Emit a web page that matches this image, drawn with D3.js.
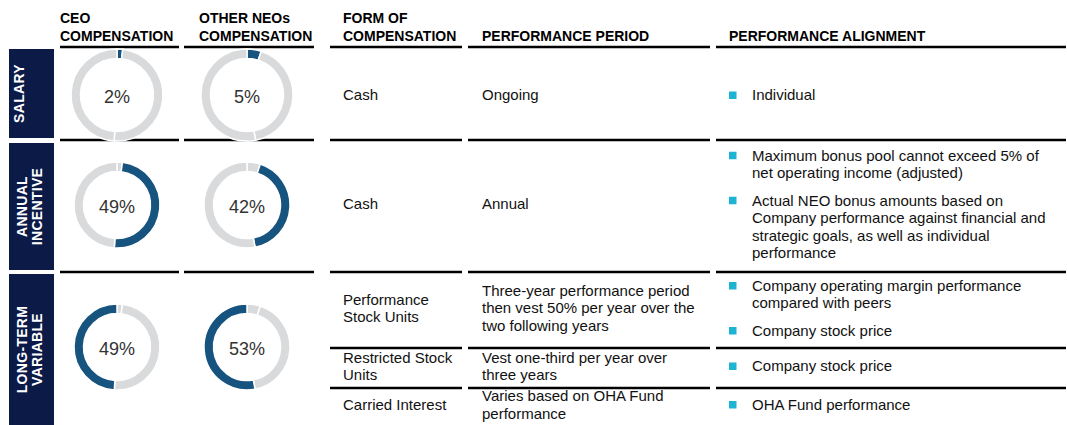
<!DOCTYPE html>
<html>
<head>
<meta charset="utf-8">
<script src="https://cdn.jsdelivr.net/npm/d3@7"></script>
<style>
  body { margin: 0; background: #fff; }
  text { font-family: "Liberation Sans", Arial, sans-serif; }
</style>
</head>
<body>
<div class="chart"></div>
<script>
// ---- data ----
const groups = ["SALARY", "ANNUAL INCENTIVE", "LONG-TERM VARIABLE"];
const groupLines = [["SALARY", ""], ["ANNUAL", "INCENTIVE"], ["LONG-TERM", "VARIABLE"]];
const ceoShare = [2, 49, 49];
const neoShare = [5, 42, 53];

const headers = [
    ["CEO", "COMPENSATION"],
    ["OTHER NEOs", "COMPENSATION"],
    ["FORM OF", "COMPENSATION"],
    ["", "PERFORMANCE PERIOD"],
    ["", "PERFORMANCE ALIGNMENT"]
];

// one entry per table sub-row
const forms = [["Cash"], ["Cash"], ["Performance", "Stock Units"], ["Restricted Stock", "Units"], ["Carried Interest"]];
const periods = [
    ["Ongoing"],
    ["Annual"],
    ["Three-year performance period", "then vest 50% per year over the", "two following years"],
    ["Vest one-third per year over", "three years"],
    ["Varies based on OHA Fund", "performance"]
];
const alignments = [
    [["Individual"]],
    [["Maximum bonus pool cannot exceed 5% of", "net operating income (adjusted)"],
     ["Actual NEO bonus amounts based on", "Company performance against financial and", "strategic goals, as well as individual", "performance"]],
    [["Company operating margin performance", "compared with peers"], ["Company stock price"]],
    [["Company stock price"]],
    [["OHA Fund performance"]]
];

// ---- layout ----
const width = 1067, height = 425;
const navy = "#0c1a48", blue = "#17537f", grey = "#d9dadc", cyan = "#1db4d4";
const lineH = 17.5, bulletGap = 10;

const cols = [[60, 179], [184, 314], [330, 462], [468, 710], [716, 1066]];
const headerX = [60, 199, 343, 482, 729];
const groupBounds = [47, 140, 272, 425];
const subBounds = [47, 140, 272, 348, 388, 425];
const barSpans = [[49, 138], [143, 270], [274, 425]];

const svg = d3.select(".chart").append("svg")
    .attr("width", width)
    .attr("height", height);

// headers
headers.forEach((h, i) => {
    h.forEach((t, j) => {
        if (!t) return;
        svg.append("text")
            .attr("x", headerX[i])
            .attr("y", 23 + j * 17.5)
            .attr("font-size", 14)
            .attr("font-weight", "bold")
            .attr("fill", "#000")
            .text(t);
    });
});

// left group bars
groups.forEach((g, i) => {
    const [y0, y1] = barSpans[i];
    svg.append("rect")
        .attr("x", 9).attr("y", y0)
        .attr("width", 45).attr("height", y1 - y0)
        .attr("fill", navy);
    const cy = (y0 + y1) / 2;
    groupLines[i].forEach((t, j) => {
        if (!t) return;
        const cx = (i === 0 ? 19 : 22) + j * 15;
        svg.append("text")
            .attr("transform", `translate(${cx},${cy}) rotate(-90)`)
            .attr("text-anchor", "middle")
            .attr("dy", "0.36em")
            .attr("font-size", 14)
            .attr("font-weight", "bold")
            .attr("letter-spacing", 0.3)
            .attr("fill", "#fff")
            .text(t);
    });
});

// rule lines
const rules = [];
groupBounds.slice(0, 3).forEach(y => cols.forEach(c => rules.push({ y, x0: c[0], x1: c[1] })));
[348, 388].forEach(y => cols.slice(2).forEach(c => rules.push({ y, x0: c[0], x1: c[1] })));

svg.selectAll("line.rule")
    .data(rules)
    .join("line")
    .attr("class", "rule")
    .attr("x1", d => d.x0).attr("x2", d => d.x1)
    .attr("y1", d => d.y).attr("y2", d => d.y)
    .attr("stroke", "#000")
    .attr("stroke-width", 2.6);

// donuts
const pie = d3.pie().sort(null).value(d => d);
const donutCx = [117, 247];
const donutCy = [95, 205, 347];
const radius = [46, 43, 43];

[ceoShare, neoShare].forEach((shares, c) => {
    const arcs = pie(shares);
    arcs.forEach((a, i) => {
        const arc = d3.arc().innerRadius(radius[i] - 9.5).outerRadius(radius[i]);
        const g = svg.append("g")
            .attr("transform", `translate(${donutCx[c]},${donutCy[i]})`);
        g.selectAll("path")
            .data(arcs)
            .join("path")
            .attr("d", arc)
            .attr("fill", (d, k) => k === i ? blue : grey)
            .attr("stroke", "#fff")
            .attr("stroke-width", 1.5);
        g.append("text")
            .attr("text-anchor", "middle")
            .attr("dy", "0.36em")
            .attr("y", 2)
            .attr("font-family", "Roboto, Arial, sans-serif")
            .attr("font-size", 18)
            .attr("fill", "#333")
            .text(shares[i] + "%");
    });
});

// table body text
function textBlock(x, cy, lines) {
    const top = cy - (lines.length - 1) * lineH / 2;
    lines.forEach((t, j) => {
        svg.append("text")
            .attr("x", x)
            .attr("y", top + j * lineH)
            .attr("dy", "0.35em")
            .attr("font-size", 15)
            .attr("fill", "#111")
            .text(t);
    });
}

forms.forEach((f, r) => {
    const cy = (subBounds[r] + subBounds[r + 1]) / 2 + (r === 0 ? 1.5 : -2);
    textBlock(343, cy, f);
    textBlock(482, cy, periods[r]);

    const bullets = alignments[r];
    const total = d3.sum(bullets, b => b.length) * lineH - lineH + (bullets.length - 1) * bulletGap;
    let y = cy - total / 2;
    bullets.forEach(b => {
        svg.append("rect")
            .attr("x", 729).attr("y", y - 3.5)
            .attr("width", 7.5).attr("height", 7.5)
            .attr("fill", cyan);
        b.forEach((t, j) => {
            svg.append("text")
                .attr("x", 752)
                .attr("y", y + j * lineH)
                .attr("dy", "0.35em")
                .attr("font-size", 15)
                .attr("fill", "#111")
                .text(t);
        });
        y += b.length * lineH + bulletGap;
    });
});
</script>
</body>
</html>
